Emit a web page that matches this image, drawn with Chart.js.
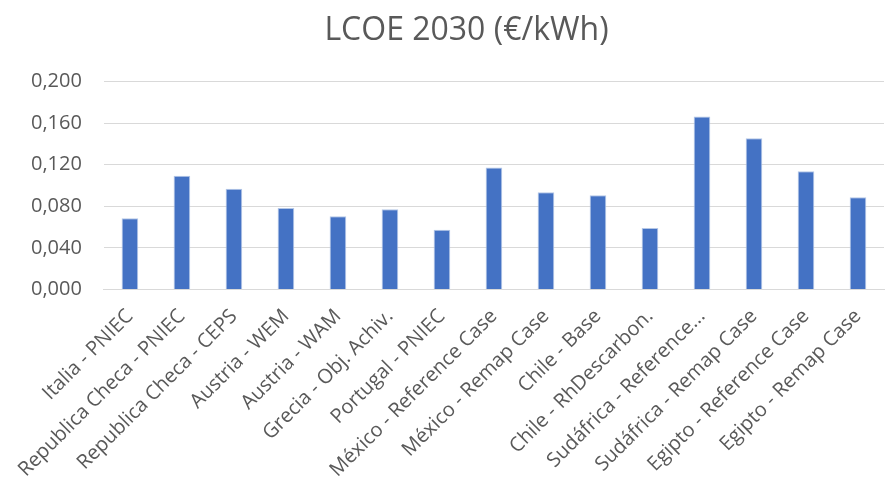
<!DOCTYPE html>
<html>
<head>
<meta charset="utf-8">
<script src="https://cdn.jsdelivr.net/npm/chart.js@4"></script>
<style>
  html, body { margin: 0; padding: 0; background: #fff; }
  #wrap { width: 885px; height: 489px; }
</style>
</head>
<body>
<div id="wrap"><canvas id="lcoeChart"></canvas></div>
<script>
var labels = ['Italia - PNIEC', 'Republica Checa - PNIEC', 'Republica Checa - CEPS', 'Austria - WEM', 'Austria - WAM',
    'Grecia - Obj. Achiv.', 'Portugal - PNIEC', 'México - Reference Case', 'México - Remap Case', 'Chile - Base',
    'Chile - RhDescarbon.', 'Sudáfrica - Reference...', 'Sudáfrica - Remap Case', 'Egipto - Reference Case', 'Egipto - Remap Case'];
var lcoe2030 = [0.0685, 0.1093, 0.0968, 0.0784, 0.0704, 0.0772, 0.0576, 0.1174, 0.0936, 0.0907, 0.0592, 0.1662, 0.1454, 0.1138, 0.0888];
var yTicks = [0, 0.04, 0.08, 0.12, 0.16, 0.2];

// nudge the title a bit to the right, like in the original
var titleShift = {
    id: 'titleShift',
    afterLayout: function(chart) {
        if (chart.titleBlock) chart.titleBlock.left += 40;
    }
};

var ctx = document.getElementById('lcoeChart').getContext('2d');
var lcoeChart = new Chart(ctx, {
type: 'bar',
data: {
    labels: labels,
    datasets: [{
        label: 'LCOE 2030',
        data: lcoe2030,
        backgroundColor: '#4472C4',
        borderColor: '#b4c7e7',
        borderWidth: { top: 1, left: 1, right: 1, bottom: 0 },
        barPercentage: 0.32,
        categoryPercentage: 1
    }]
},
options: {
    responsive: true,
    maintainAspectRatio: false,
    animation: false,
    layout: { padding: { left: 9, right: 1, top: 0, bottom: 0 } },
    scales: {
        y: {
            min: 0,
            max: 0.2,
            afterBuildTicks: function(axis) {
                axis.ticks = yTicks.map(function(v) { return { value: v }; });
            },
            grid: { color: '#d9d9d9', lineWidth: 1, drawTicks: false },
            border: { display: false },
            ticks: {
                padding: 22,
                color: '#595959',
                font: { family: 'Open Sans', size: 20 },
                callback: function(v) { return v.toFixed(3).replace('.', ','); }
            }
        },
        x: {
            grid: { display: false },
            border: { display: true, color: '#d9d9d9', width: 1 },
            ticks: {
                color: '#595959',
                font: { family: 'Open Sans', size: 20 },
                maxRotation: 45,
                minRotation: 45,
                autoSkip: false,
                padding: 7
            }
        }
    },
    plugins: {
        legend: { display: false },
        tooltip: { enabled: false },
        title: {
            display: true,
            text: 'LCOE 2030 (€/kWh)',
            color: '#595959',
            font: { family: 'Open Sans', size: 32, weight: 'normal' },
            padding: { top: 12, bottom: 31 }
        }
    }
},
plugins: [titleShift]
});
</script>
</body>
</html>
